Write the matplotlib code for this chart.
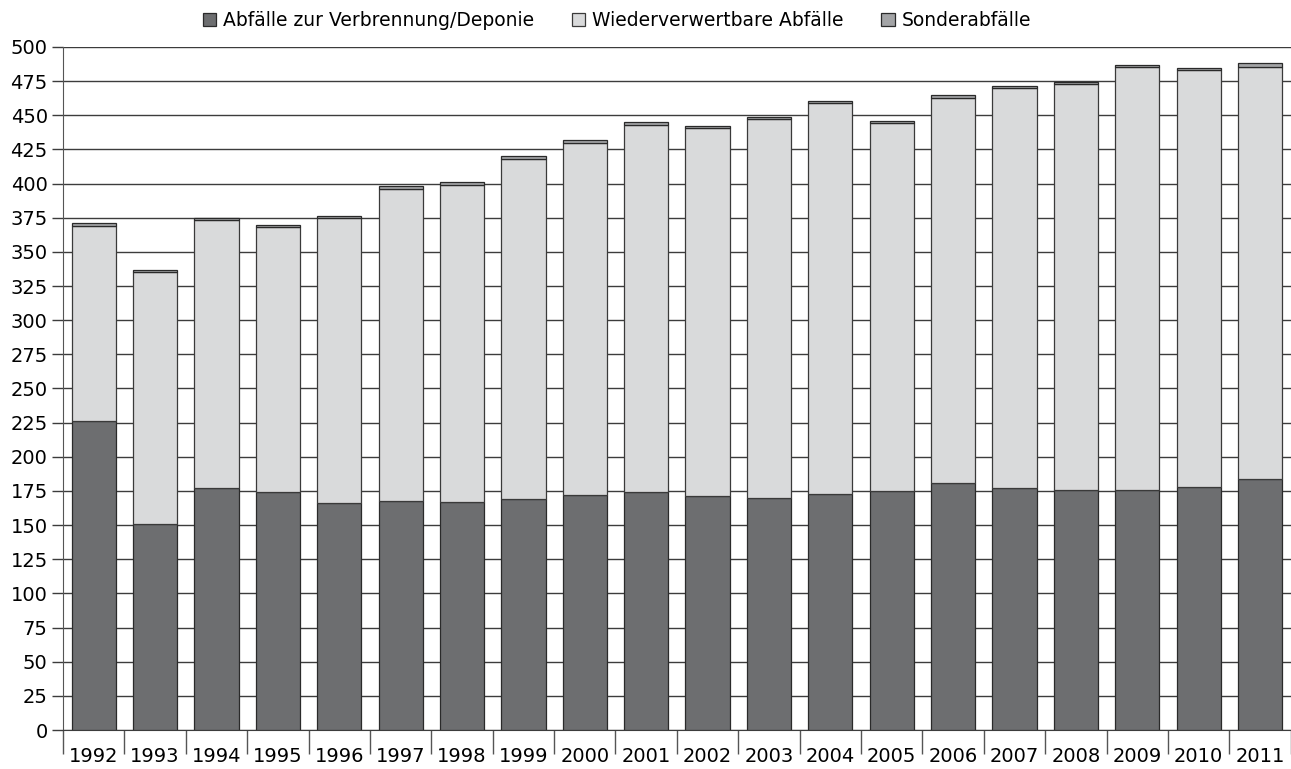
import matplotlib.pyplot as plt
import numpy as np

years = [str(y) for y in range(1992, 2012)]
# Abfälle zur Verbrennung/Deponie
verbrennung = [226, 151, 177, 174, 166, 168, 167, 169, 172, 174,
               171, 170, 173, 175, 181, 177, 176, 176, 178, 184]
# Wiederverwertbare Abfälle
wiederverwertbar = [143, 184, 196, 194, 209, 228, 232, 249, 258, 269,
                    270, 277, 286, 269, 282, 293, 297, 309, 305, 301]
# Sonderabfälle
sonder = [2, 1.5, 2, 2, 1, 2, 2, 2, 2, 2,
          1.5, 1.5, 1.5, 1.5, 1.5, 1.5, 1.5, 1.5, 1.5, 3]

c_dark = '#6d6e70'
c_light = '#d9dadb'
c_sonder = '#a3a4a6'

plt.rcParams['font.family'] = ['DejaVu Sans']

fig = plt.figure(figsize=(12.91, 7.69), dpi=100)
ax = fig.add_axes([0.0488, 0.0507, 0.951, 0.8882])

x = np.arange(len(years))
w = 0.72
v = np.array(verbrennung)
r = np.array(wiederverwertbar)
s = np.array(sonder)

ax.bar(x, v, w, color=c_dark, edgecolor='#2a2a2a', linewidth=0.9, zorder=3,
       label='Abfälle zur Verbrennung/Deponie')
ax.bar(x, r, w, bottom=v, color=c_light, edgecolor='#3a3a3a', linewidth=0.9, zorder=3,
       label='Wiederverwertbare Abfälle')
ax.bar(x, s, w, bottom=v + r, color=c_sonder, edgecolor='#2a2a2a', linewidth=0.9, zorder=3,
       label='Sonderabfälle')

ax.set_xlim(-0.5, len(years) - 0.5)
ax.set_ylim(0, 500)
ax.set_yticks(np.arange(0, 501, 25))
ax.yaxis.grid(True, color='#3c3c3c', linewidth=1.0, zorder=0)
ax.set_axisbelow(True)
ax.tick_params(axis='y', length=8, width=1.0, color='#3c3c3c', labelsize=14, pad=3)

# ticks at category boundaries, labels centred
ax.set_xticks(np.arange(-0.5, len(years), 1.0))
ax.set_xticklabels([])
ax.set_xticks(x, minor=True)
ax.set_xticklabels(years, minor=True)
ax.tick_params(axis='x', which='major', length=17, width=1.0, color='#555555')
ax.tick_params(axis='x', which='minor', length=0, labelsize=14, pad=12)

for side in ['top', 'right']:
    ax.spines[side].set_visible(False)
ax.spines['left'].set_color('#555555')
ax.spines['bottom'].set_color('#3c3c3c')

fig.legend(loc='upper center', bbox_to_anchor=(0.478, 1.008), ncol=3, frameon=False,
           fontsize=13.5, handlelength=0.7, handleheight=0.7, columnspacing=2.0,
           handletextpad=0.4)

plt.savefig('out.png', dpi=100)
